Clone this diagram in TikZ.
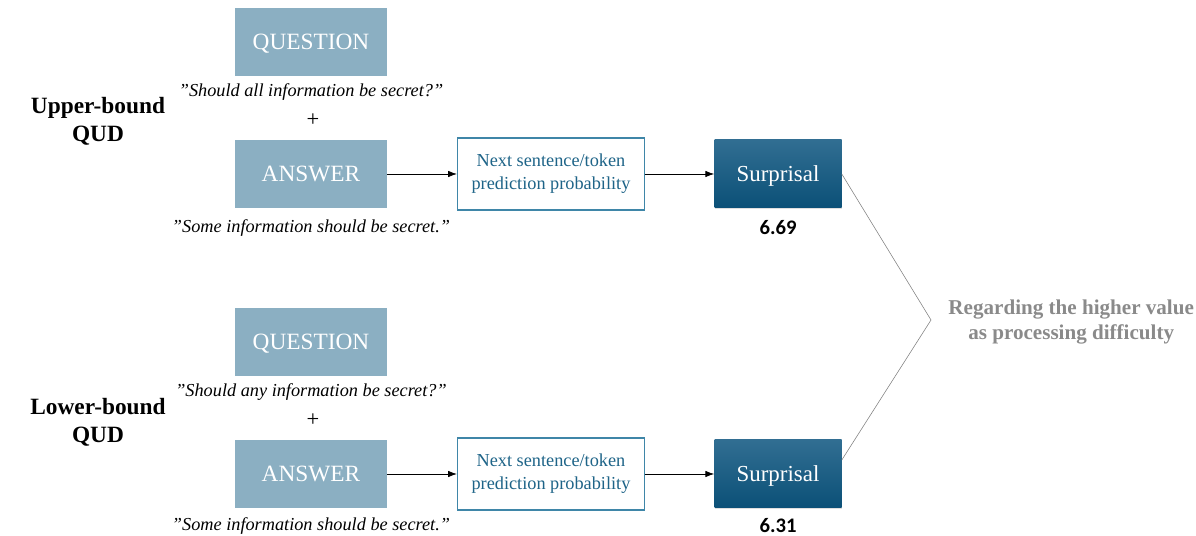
\documentclass[tikz,border=0pt]{standalone}
\usepackage{fontspec}
\setmainfont{Liberation Serif}
\newfontfamily\numfont{Carlito}
\usepackage{tikz}
\usetikzlibrary{arrows.meta,shadows}

\definecolor{qafill}{HTML}{8BAFC2}
\definecolor{nextblue}{HTML}{3F86A8}
\definecolor{nexttext}{HTML}{1E6488}
\definecolor{surtop}{HTML}{316E92}
\definecolor{surbot}{HTML}{0B5077}
\definecolor{regardgray}{HTML}{8A8A8A}

\tikzset{
	qabox/.style={fill=qafill, text=white, minimum width=3.8cm, minimum height=1.7cm,
		text depth=0pt, font=\fontsize{16.6}{20}\selectfont},
	nextbox/.style={draw=nextblue, line width=0.8pt, fill=white, text=nexttext, align=center,
		minimum width=4.675cm, minimum height=1.8cm, font=\fontsize{13}{16.4}\selectfont},
	surbox/.style={top color=surtop, bottom color=surbot, text=white,
		minimum width=3.175cm, minimum height=1.7cm, text depth=0pt, font=\fontsize{16.3}{20}\selectfont,
		drop shadow={opacity=0.25, shadow xshift=0.6pt, shadow yshift=-0.6pt}},
	quote/.style={font=\fontsize{13}{16}\selectfont\itshape},
	plus/.style={font=\fontsize{16}{18}\selectfont},
	qud/.style={align=center, font=\fontsize{16.6}{20}\selectfont\bfseries},
	val/.style={font=\fontsize{14.7}{17}\selectfont\numfont\bfseries},
	flow/.style={-{Latex[length=2.2mm,width=1.6mm]}, line width=0.5pt},
}

\begin{document}
\begin{tikzpicture}
	\useasboundingbox (0,0) rectangle (29.9,13.4);
	% upper-bound
	\node[qud] (qud1) at (2.45,10.375) {Upper-bound\\QUD};
	\node[qabox] (q1) at (7.775,12.35) {QUESTION};
	\node[quote] (qq1) at (7.775,11.1) {''Should all information be secret?''};
	\node[plus] (p1) at (7.825,10.4) {+};
	\node[qabox] (a1) at (7.775,9.05) {ANSWER};
	\node[quote] (aq1) at (7.775,7.7) {''Some information should be secret.''};
	\node[nextbox] (n1) at (13.775,9.05) {Next sentence/token\\prediction probability};
	\node[surbox] (s1) at (19.45,9.05) {Surprisal};
	\node[val] (v1) at (19.45,7.7) {6.69};
	\draw[flow] (a1) -- (n1);
	\draw[flow] (n1) -- (s1);
	% lower-bound
	\node[qud] (qud2) at (2.45,2.85) {Lower-bound\\QUD};
	\node[qabox] (q2) at (7.775,4.85) {QUESTION};
	\node[quote] (qq2) at (7.775,3.6) {''Should any information be secret?''};
	\node[plus] (p2) at (7.825,2.9) {+};
	\node[qabox] (a2) at (7.775,1.55) {ANSWER};
	\node[quote] (aq2) at (7.775,0.25) {''Some information should be secret.''};
	\node[nextbox] (n2) at (13.775,1.55) {Next sentence/token\\prediction probability};
	\node[surbox] (s2) at (19.45,1.55) {Surprisal};
	\node[val] (v2) at (19.45,0.27) {6.31};
	\draw[flow] (a2) -- (n2);
	\draw[flow] (n2) -- (s2);
	% comparison
	\coordinate (apex) at (23.275,5.4);
	\draw[gray, line width=0.4pt] (s1.east) -- (apex) -- ([yshift=0.35cm]s2.east);
	\node[align=center, text=regardgray, font=\fontsize{15}{18}\selectfont\bfseries] (reg) at (26.78,5.35)
		{Regarding the higher value\\as processing difficulty};
\end{tikzpicture}
\end{document}
